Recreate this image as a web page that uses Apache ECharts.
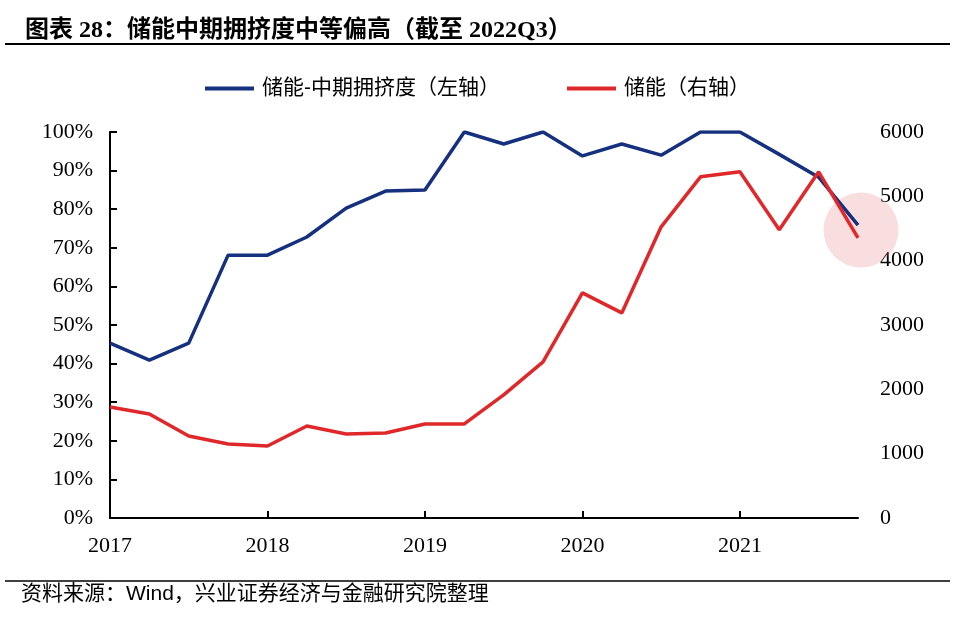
<!DOCTYPE html>
<html><head><meta charset="utf-8">
<script src="https://cdn.jsdelivr.net/npm/echarts@6/dist/echarts.min.js"></script>
<style>html,body{margin:0;padding:0;background:#fff}#c{width:961px;height:627px}</style>
</head><body><div id="c"></div>
<script>
const categories = ['2017Q1','2017Q2','2017Q3','2017Q4','2018Q1','2018Q2','2018Q3','2018Q4','2019Q1','2019Q2','2019Q3','2019Q4','2020Q1','2020Q2','2020Q3','2020Q4','2021Q1','2021Q2','2021Q3','2021Q4'];
const crowding = [45.3,40.9,45.3,68.1,68.1,72.8,80.3,84.7,85,100,96.9,100,93.8,96.9,94,100,100,94.2,88.3,75.9];
const storage = [1726,1617,1275,1151,1120,1431,1306,1322,1462,1462,1913,2426,3499,3188,4526,5303,5381,4479,5381,4355];
const highlight = [[19, 74.6]];
const leftTicks = {min:0, max:100, interval:10};
const rightTicks = {min:0, max:6000, interval:1000};
const seriesNames = ['储能-中期拥挤度（左轴）','储能（右轴）'];

const serif = '"Liberation Serif","Times New Roman",serif';
const cjk = '"Liberation Serif","Noto Sans CJK SC",serif';
const sans = '"Liberation Sans","Noto Sans CJK SC",sans-serif';
const legendBase = {top:73, itemWidth:49, itemHeight:4, icon:'rect',
  textStyle:{fontSize:21, color:'#000', fontFamily:sans, padding:[0,0,0,3]}};
const chart = echarts.init(document.getElementById('c'));
chart.setOption({
  animation:false,
  title:{text:'图表 28：储能中期拥挤度中等偏高（截至 2022Q3）', left:20, top:14,
    textStyle:{fontSize:24, fontWeight:'bold', color:'#000', fontFamily:cjk}},
  graphic:[
    {type:'line', shape:{x1:5,y1:44,x2:950,y2:44}, style:{stroke:'#000', lineWidth:2}},
    {type:'line', shape:{x1:5,y1:581,x2:950,y2:581}, style:{stroke:'#000', lineWidth:1.5}},
    {type:'text', left:21, top:584, style:{text:'资料来源：Wind，兴业证券经济与金融研究院整理', fontSize:21, fill:'#000', fontFamily:sans}}
  ],
  legend:[
    Object.assign({left:200, data:[seriesNames[0]]}, legendBase),
    Object.assign({left:562, data:[seriesNames[1]]}, legendBase)
  ],
  grid:{left:110, right:103, top:132, bottom:109, containLabel:false},
  xAxis:{type:'category', data:categories, boundaryGap:false,
    axisLine:{lineStyle:{color:'#000', width:2}},
    axisTick:{inside:true, interval:3, length:7, lineStyle:{color:'#000', width:2}},
    axisLabel:{interval:3, formatter:v=>v.slice(0,4), fontSize:22, color:'#000', fontFamily:serif, margin:17},
    splitLine:{show:false}},
  yAxis:[
    {type:'value', min:leftTicks.min, max:leftTicks.max, interval:leftTicks.interval,
      axisLine:{show:true, lineStyle:{color:'#000', width:2}},
      axisTick:{show:true, inside:true, length:7, lineStyle:{color:'#000', width:2}},
      axisLabel:{formatter:'{value}%', fontSize:22, color:'#000', fontFamily:serif, margin:17},
      splitLine:{show:false}},
    {type:'value', min:rightTicks.min, max:rightTicks.max, interval:rightTicks.interval,
      axisLine:{show:false}, axisTick:{show:false},
      axisLabel:{formatter:v=>String(v), fontSize:22, color:'#000', fontFamily:serif, margin:22},
      splitLine:{show:false}}
  ],
  series:[
    {type:'scatter', yAxisIndex:0, data:highlight, symbolSize:75, symbolOffset:[3,0], z:1, silent:true,
      itemStyle:{color:'rgba(228,120,120,0.3)'}},
    {name:seriesNames[0], type:'line', yAxisIndex:0, data:crowding, showSymbol:false, z:3,
      lineStyle:{color:'#15307f', width:3.5}, itemStyle:{color:'#15307f'}},
    {name:seriesNames[1], type:'line', yAxisIndex:1, data:storage, showSymbol:false, z:3,
      lineStyle:{color:'#e0282a', width:3.5}, itemStyle:{color:'#e0282a'}}
  ]
});
</script></body></html>
